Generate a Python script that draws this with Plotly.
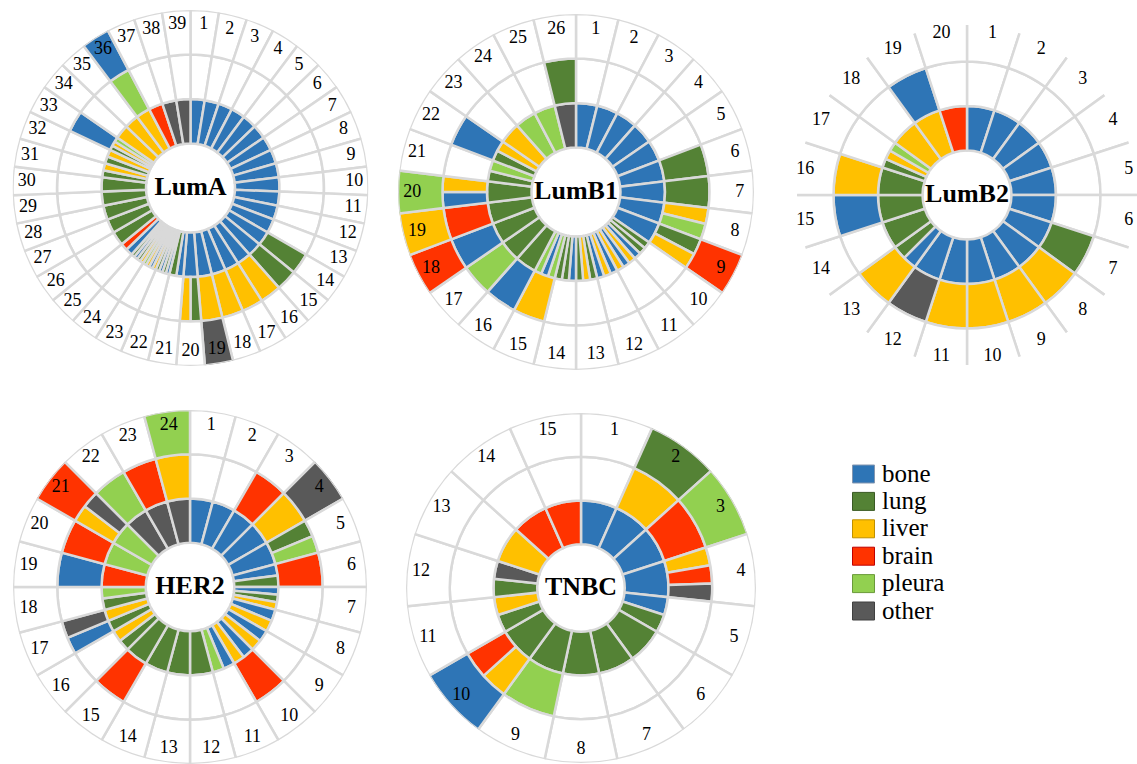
import plotly.graph_objects as go

W, H = 1137, 764
SERIF = "Liberation Serif, Times New Roman, serif"

# metastasis sites: code, legend name, fill colour, box edge colour
SITE_CODES = ["B", "L", "V", "R", "P", "O"]
SITE_NAMES = ["bone", "lung", "liver", "brain", "pleura", "other"]
SITE_COLORS = ["#2E75B6", "#548235", "#FFC000", "#FF3300", "#92D050", "#595959"]
SITE_EDGES = ["#8497B0", "#3A5A24", "#BF9000", "#C00000", "#6A9A3A", "#404040"]

# Each ring lists, per patient (clockwise from 12 o'clock), the sites in that
# ring; several letters split the patient's sector, "" leaves it blank.
lumA_ring1 = ["B"] * 20 + ["BL", "BLBL", "VBVP", "VLBL", "BR"] + ["L"] * 5 + \
             ["LV", "LV", "LVP", "V", "V", "V", "R", "O", "O"]
lumA_ring2 = [""] * 13 + ["L", "L", "V", "V", "V", "V", "LV"] + [""] * 12 + \
             ["B", "", "", "P", "", "", ""]
lumA_ring3 = [""] * 18 + ["O"] + [""] * 16 + ["B", "", "", ""]

lumB1_ring1 = ["B"] * 9 + ["LLB", "VBV", "BVB", "LVL", "BLL", "PBP"] + \
              ["L"] * 5 + ["LP", "LV", "V", "P", "P", "O"]
lumB1_ring2 = [""] * 5 + ["L", "L", "VP", "LV"] + [""] * 5 + \
              ["V", "B", "P", "B", "R", "BV", "", "B", "", "", "", "L"]
lumB1_ring3 = [""] * 8 + ["R"] + [""] * 8 + ["R", "V", "P"] + [""] * 6

lumB2_ring1 = ["B"] * 12 + ["BL", "L", "L", "L", "LVP", "V", "V", "R"]
lumB2_ring2 = [""] * 6 + ["L", "V", "V", "V", "V", "O", "V", "", "B", "V",
                          "", "", "B", ""]
lumB2_ring3 = [""] * 20

her2_ring1 = ["B"] * 5 + ["BL", "BLV", "BV", "BV", "BV", "BP", "L", "L", "L",
                          "L", "LV", "LV", "LP", "R", "P", "P", "O", "O", "O"]
her2_ring2 = ["", "", "R", "V", "LP", "R", "", "", "", "R", "", "", "", "",
              "R", "", "BO", "", "B", "R", "VO", "P", "R", "V"]
her2_ring3 = ["", "", "", "O"] + [""] * 16 + ["R", "", "", "P"]

tnbc_ring1 = ["B", "B", "B", "B", "BL", "L", "L", "L", "L", "L", "LV", "LO",
              "V", "R", "R"]
tnbc_ring2 = ["", "V", "R", "VRO", "", "", "", "", "P", "VR", "", "", "",
              "", ""]
tnbc_ring3 = ["", "L", "P", "", "", "", "", "", "", "B", "", "", "", "", ""]

GROUPS = ["LumA", "LumB1", "LumB2", "HER2", "TNBC"]
RINGS = [
    (lumA_ring1, lumA_ring2, lumA_ring3),
    (lumB1_ring1, lumB1_ring2, lumB1_ring3),
    (lumB2_ring1, lumB2_ring2, lumB2_ring3),
    (her2_ring1, her2_ring2, her2_ring3),
    (tnbc_ring1, tnbc_ring2, tnbc_ring3),
]
# centre (px) and drawn outer radius (px) of each wheel; the domain radius is
# what fits on the page, the wheel may run past it on the right edge
CENTERS = [(190.5, 188), (576, 192), (967, 195), (190, 587), (581, 588)]
OUTER_R = [178, 178, 178, 177, 175]
DOMAIN_R = [178, 178, 170, 177, 175]

GRID = "#D9D9D9"
LABEL_R = 3.68
color_of = dict(zip(SITE_CODES, SITE_COLORS))

fig = go.Figure()
layout_polars = {}

for g, (name, rings) in enumerate(zip(GROUPS, RINGS)):
    pid = "polar" if g == 0 else f"polar{g + 1}"
    n = len(rings[0])
    step = 360.0 / n
    thetas, widths, bases, colors = [], [], [], []
    for level, ring in enumerate(rings, start=1):
        for i, cell in enumerate(ring):
            parts = list(cell) if cell else [None]
            w = step / len(parts)
            for j, code in enumerate(parts):
                thetas.append(i * step + (j + 0.5) * w)
                widths.append(w)
                bases.append(level)
                colors.append(color_of[code] if code else "white")
    fig.add_trace(go.Barpolar(
        subplot=pid, theta=thetas, width=widths, base=bases,
        r=[1] * len(thetas),
        marker=dict(color=colors, line=dict(color=GRID, width=2.5)),
        showlegend=False, hoverinfo="skip",
    ))
    # patient numbers in the outer ring
    fig.add_trace(go.Scatterpolar(
        subplot=pid, mode="text",
        r=[LABEL_R] * n, theta=[(i + 0.5) * step for i in range(n)],
        text=[str(i + 1) for i in range(n)],
        textfont=dict(family=SERIF, size=18, color="black"),
        cliponaxis=False, showlegend=False, hoverinfo="skip",
    ))
    # subtype name in the hole
    fig.add_trace(go.Scatterpolar(
        subplot=pid, mode="text", r=[0], theta=[0],
        text=[f"<b>{name}</b>"],
        textfont=dict(family=SERIF, size=26, color="black"),
        cliponaxis=False, showlegend=False, hoverinfo="skip",
    ))

    cx, cy = CENTERS[g]
    rd = DOMAIN_R[g]
    layout_polars[pid] = dict(
        domain=dict(x=[(cx - rd) / W, min((cx + rd) / W, 1.0)],
                    y=[1 - (cy + rd) / H, 1 - (cy - rd) / H]),
        bgcolor="white",
        barmode="overlay",
        angularaxis=dict(rotation=90, direction="clockwise", visible=False,
                         showgrid=False, showline=False),
        radialaxis=dict(visible=False, range=[0, 4 * rd / OUTER_R[g]],
                        showgrid=False, showline=False),
    )

# legend drawn as boxes and labels
shapes, annotations = [], []
LEG_X0, LEG_Y0, LEG_DY = 852.5, 474.0, 27.4
for k, (nm, col, edge) in enumerate(zip(SITE_NAMES, SITE_COLORS, SITE_EDGES)):
    yc = LEG_Y0 + k * LEG_DY
    shapes.append(dict(type="rect", xref="paper", yref="paper",
                       x0=LEG_X0 / W, x1=(LEG_X0 + 22) / W,
                       y0=1 - (yc + 9) / H, y1=1 - (yc - 9) / H,
                       fillcolor=col, line=dict(color=edge, width=1)))
    annotations.append(dict(xref="paper", yref="paper", x=(LEG_X0 + 27) / W,
                            y=1 - (yc - 1) / H, xanchor="left",
                            yanchor="middle", text=nm, showarrow=False,
                            font=dict(family=SERIF, size=25, color="black")))

fig.update_layout(
    width=W, height=H, margin=dict(l=0, r=0, t=0, b=0),
    paper_bgcolor="white", plot_bgcolor="white",
    shapes=shapes, annotations=annotations, showlegend=False,
    **layout_polars,
)

fig.write_html("out.html")
